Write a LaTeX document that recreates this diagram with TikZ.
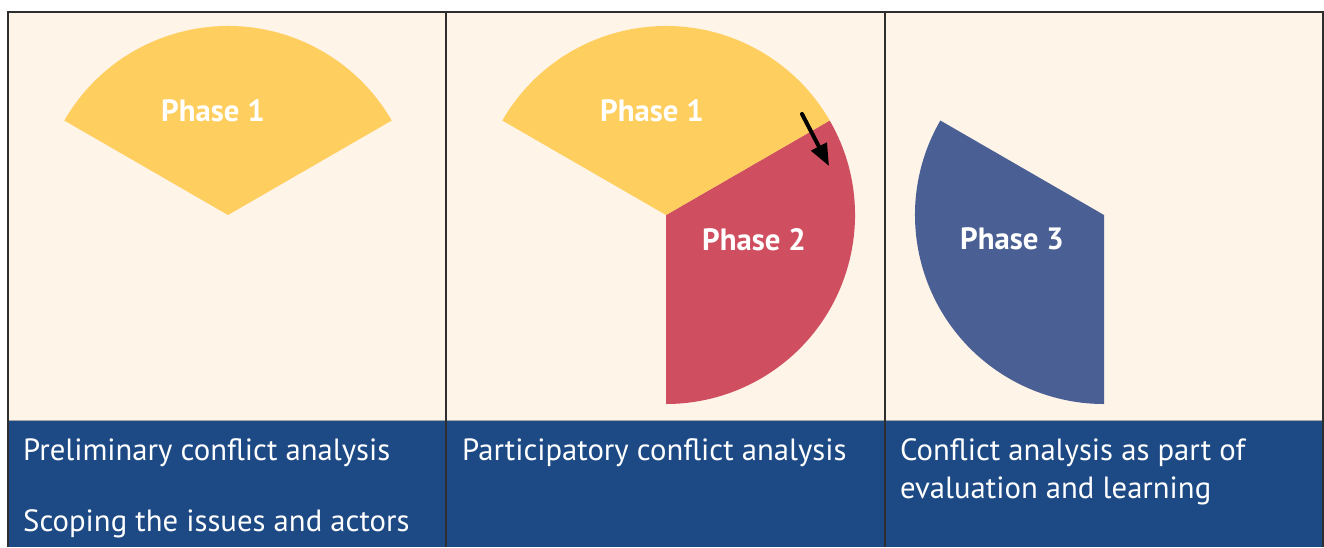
\documentclass[tikz,border=0pt]{standalone}
\usepackage{fontspec}
\setmainfont{PT Sans}
\usetikzlibrary{arrows.meta}

\definecolor{creambg}{HTML}{FEF4E8}
\definecolor{phaseyellow}{HTML}{FECE5E}
\definecolor{phasered}{HTML}{CF4F60}
\definecolor{phaseblue}{HTML}{4A6094}
\definecolor{bandblue}{HTML}{1D4A84}
\definecolor{framegray}{HTML}{2E2E2E}

\tikzset{
  phaselabel/.style={anchor=base, inner sep=0pt, text=white,
    font=\fontsize{30.8}{36}\selectfont\bfseries},
  bandtext/.style={anchor=base west, inner sep=0pt, text=white,
    font=\fontsize{30.7}{38}\selectfont},
  frameline/.style={draw=framegray, line width=1.6pt}
}

\begin{document}
\begin{tikzpicture}[x=1pt, y=-1pt]
    \useasboundingbox (0, 0) rectangle (1324, 547);

    % Panels and bottom band
    \fill[creambg] (8, 12) rectangle (1323, 420);
    \fill[bandblue] (8, 420) rectangle (1323, 547);
    \draw[gray!70, line width=0.8pt] (8, 420) -- (1323, 420);

    % Phase 1 alone (y runs downwards, so angles are mirrored)
    \fill[phaseyellow] (228, 215) -- ++(-150:189) arc[start angle=-150, end angle=-30, radius=189] -- cycle;
    \node[phaselabel] (onea) at (213, 121) {Phase 1};

    % Phase 1 and Phase 2
    \fill[phasered] (666, 215) -- ++(-30:189) arc[start angle=-30, end angle=90, radius=189] -- cycle;
    \fill[phaseyellow] (666, 215) -- ++(-150:189) arc[start angle=-150, end angle=-30, radius=189] -- cycle;
    \node[phaselabel] (oneb) at (652, 121) {Phase 1};
    \node[phaselabel] (two) at (754, 250) {Phase 2};

    \coordinate (turnfrom) at (802, 114);
    \coordinate (turnto) at (829, 166);
    \draw[-{Triangle[length=22pt, width=17pt]}, line width=4pt, line cap=round] (turnfrom) -- (turnto);

    % Phase 3
    \fill[phaseblue] (1104, 215) -- ++(-150:189) arc[start angle=-150, end angle=-270, radius=189] -- cycle;
    \node[phaselabel] (three) at (1012, 249) {Phase 3};

    % Texts in the band
    \node[bandtext] (prelim) at (23, 460) {Preliminary conflict analysis};
    \node[bandtext] (scoping) at (23, 531) {Scoping the issues and actors};
    \node[bandtext] (particip) at (462, 460) {Participatory conflict analysis};
    \node[bandtext] (evalone) at (900, 460) {Conflict analysis as part of};
    \node[bandtext] (evaltwo) at (900, 498) {evaluation and learning};

    % Frame and dividers
    \draw[frameline] (8, 547) -- (8, 12) -- (1323, 12) -- (1323, 547);
    \draw[frameline] (446, 12) -- (446, 547);
    \draw[frameline] (885, 12) -- (885, 547);
\end{tikzpicture}
\end{document}
